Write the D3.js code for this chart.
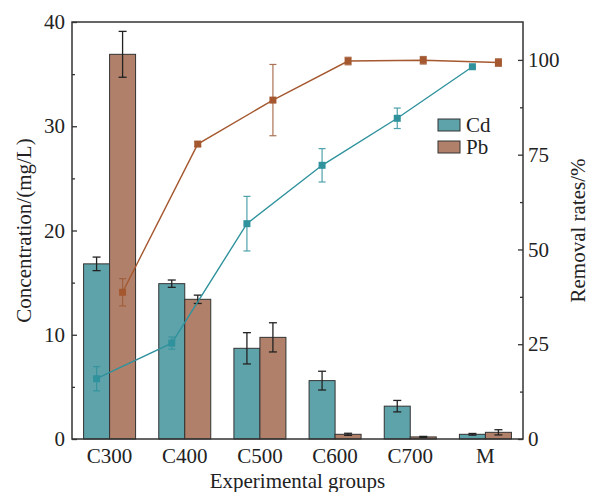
<!DOCTYPE html>
<html>
<head>
<meta charset="utf-8">
<script src="https://cdn.jsdelivr.net/npm/d3@7"></script>
<style>
  body { margin: 0; background: #fff; }
  text { font-family: "Liberation Serif", "Times New Roman", serif; fill: #222; }
</style>
</head>
<body>
<div id="chart"></div>
<script>
var categories = ["C300", "C400", "C500", "C600", "C700", "M"];
var series = ["Cd", "Pb"];

// concentration (mg/L), left axis
var cdConc = [16.8, 14.9, 8.7, 5.6, 3.15, 0.45];
var cdConcErr = [0.65, 0.35, 1.5, 0.9, 0.55, 0.08];
var pbConc = [36.9, 13.4, 9.75, 0.45, 0.2, 0.64];
var pbConcErr = [2.2, 0.4, 1.4, 0.1, 0.05, 0.25];

// removal rates (%), right axis
var cdRemoval = [15.9, 25.3, 56.8, 72.2, 84.6, 98.2];
var cdRemovalErr = [3.2, 1.6, 7.2, 4.4, 2.7, 0.3];
var pbRemoval = [38.7, 77.8, 89.4, 99.7, 99.9, 99.3];
var pbRemovalErr = [3.6, 0.6, 9.4, 1.0, 1.0, 1.0];

var leftTicks = [0, 10, 20, 30, 40];
var leftMinor = [5, 15, 25, 35];
var rightTicks = [0, 25, 50, 75, 100];
var rightMinor = [12.5, 37.5, 62.5, 87.5];

var barColor = {Cd: "#5fa3aa", Pb: "#b0806a"};
var lineColor = {Cd: "#2f929d", Pb: "#a5582f"};
var errColor = {Cd: "#2f929d", Pb: "#9e5a36"};

var W = 593, H = 492;
var padLeft = 72, padRight = 523, padTop = 22, padBottom = 439;

var svg = d3.select("#chart").append("svg")
	.attr("width", W)
	.attr("height", H);

var x0 = d3.scaleBand().domain(categories).range([padLeft, padRight]);
var x1 = d3.scaleBand().domain(series).range([0, 52]);
var yL = d3.scaleLinear().domain([0, 40]).range([padBottom, padTop]);
var yR = d3.scaleLinear().domain([0, 110]).range([padBottom, padTop]);

var groupX = function(c) { return x0(c) + x0.bandwidth() / 2 - 26; };

var rows = categories.map(function(c, i) {
	return {
		cat: c,
		Cd: {conc: cdConc[i], concErr: cdConcErr[i], rem: cdRemoval[i], remErr: cdRemovalErr[i]},
		Pb: {conc: pbConc[i], concErr: pbConcErr[i], rem: pbRemoval[i], remErr: pbRemovalErr[i]}
	};
});

// bars
series.forEach(function(s) {
	var g = svg.append("g");
	g.selectAll("rect").data(rows).enter().append("rect")
		.attr("x", function(d) { return groupX(d.cat) + x1(s); })
		.attr("y", function(d) { return yL(d[s].conc); })
		.attr("width", x1.bandwidth())
		.attr("height", function(d) { return padBottom - yL(d[s].conc); })
		.style("fill", barColor[s])
		.style("stroke", "#333")
		.style("stroke-width", 1);

	// bar error bars
	var e = svg.append("g").style("stroke", "#222").style("stroke-width", 1.3);
	rows.forEach(function(d) {
		var cx = groupX(d.cat) + x1(s) + x1.bandwidth() / 2;
		var hi = yL(d[s].conc + d[s].concErr), lo = yL(d[s].conc - d[s].concErr);
		e.append("line").attr("x1", cx).attr("x2", cx).attr("y1", hi).attr("y2", lo);
		e.append("line").attr("x1", cx - 4).attr("x2", cx + 4).attr("y1", hi).attr("y2", hi);
		e.append("line").attr("x1", cx - 4).attr("x2", cx + 4).attr("y1", lo).attr("y2", lo);
	});
});

// removal lines
series.forEach(function(s) {
	var px = function(d) { return groupX(d.cat) + x1(s) + x1.bandwidth() / 2; };
	var line = d3.line().x(px).y(function(d) { return yR(d[s].rem); });
	svg.append("path").datum(rows)
		.attr("d", line)
		.style("fill", "none")
		.style("stroke", lineColor[s])
		.style("stroke-width", 1.4);

	var e = svg.append("g").style("stroke", errColor[s]).style("stroke-width", 1.2).style("opacity", 0.85);
	rows.forEach(function(d) {
		var cx = px(d);
		var hi = yR(d[s].rem + d[s].remErr), lo = yR(d[s].rem - d[s].remErr);
		e.append("line").attr("x1", cx).attr("x2", cx).attr("y1", hi).attr("y2", lo);
		e.append("line").attr("x1", cx - 3.5).attr("x2", cx + 3.5).attr("y1", hi).attr("y2", hi);
		e.append("line").attr("x1", cx - 3.5).attr("x2", cx + 3.5).attr("y1", lo).attr("y2", lo);
	});

	svg.append("g").selectAll("rect").data(rows).enter().append("rect")
		.attr("x", function(d) { return px(d) - 3.5; })
		.attr("y", function(d) { return yR(d[s].rem) - 3.5; })
		.attr("width", 7)
		.attr("height", 7)
		.style("fill", lineColor[s]);
});

// frame
var frame = svg.append("g").style("stroke", "#333").style("stroke-width", 1.5).style("fill", "none");
frame.append("rect").attr("x", padLeft).attr("y", padTop).attr("width", padRight - padLeft).attr("height", padBottom - padTop);

// left axis
var axL = svg.append("g").attr("transform", "translate(" + padLeft + ",0)")
	.call(d3.axisLeft(yL).tickValues(leftTicks).tickSize(-5).tickPadding(7));
axL.select(".domain").remove();
axL.selectAll("line").style("stroke", "#333").style("stroke-width", 1.3);
axL.selectAll("text").style("font-size", "21px").style("fill", "#222").style("font-family", "Liberation Serif");
svg.append("g").attr("transform", "translate(" + padLeft + ",0)")
	.call(d3.axisLeft(yL).tickValues(leftMinor).tickSize(-3).tickFormat(""))
	.call(function(g) { g.select(".domain").remove(); g.selectAll("line").style("stroke", "#333").style("stroke-width", 1.3); });

// right axis
var axR = svg.append("g").attr("transform", "translate(" + padRight + ",0)")
	.call(d3.axisRight(yR).tickValues(rightTicks).tickSize(-5).tickPadding(5));
axR.select(".domain").remove();
axR.selectAll("line").style("stroke", "#333").style("stroke-width", 1.3);
axR.selectAll("text").style("font-size", "21px").style("fill", "#222").style("font-family", "Liberation Serif");
svg.append("g").attr("transform", "translate(" + padRight + ",0)")
	.call(d3.axisRight(yR).tickValues(rightMinor).tickSize(-3).tickFormat(""))
	.call(function(g) { g.select(".domain").remove(); g.selectAll("line").style("stroke", "#333").style("stroke-width", 1.3); });

// bottom axis
var axB = svg.append("g").attr("transform", "translate(0," + padBottom + ")")
	.call(d3.axisBottom(x0).tickSize(0).tickPadding(9));
axB.select(".domain").remove();
axB.selectAll("text").style("font-size", "21px").style("fill", "#222").style("font-family", "Liberation Serif");

// axis titles
svg.append("text")
	.attr("transform", "translate(31," + ((padTop + padBottom) / 2) + ") rotate(-90)")
	.attr("text-anchor", "middle")
	.style("font-size", "21px")
	.text("Concentration/(mg/L)");
svg.append("text")
	.attr("transform", "translate(585," + ((padTop + padBottom) / 2) + ") rotate(-90)")
	.attr("text-anchor", "middle")
	.style("font-size", "21px")
	.text("Removal rates/%");
svg.append("text")
	.attr("x", (padLeft + padRight) / 2)
	.attr("y", 488)
	.attr("text-anchor", "middle")
	.style("font-size", "21px")
	.text("Experimental groups");

// legend
var legend = svg.append("g").attr("transform", "translate(438,119)");
series.forEach(function(s, i) {
	legend.append("rect")
		.attr("x", 0).attr("y", i * 22)
		.attr("width", 22).attr("height", 12)
		.style("fill", barColor[s]).style("stroke", "#333").style("stroke-width", 1);
	legend.append("text")
		.attr("x", 28).attr("y", i * 22 + 13)
		.style("font-size", "21px")
		.text(s);
});
</script>
</body>
</html>
